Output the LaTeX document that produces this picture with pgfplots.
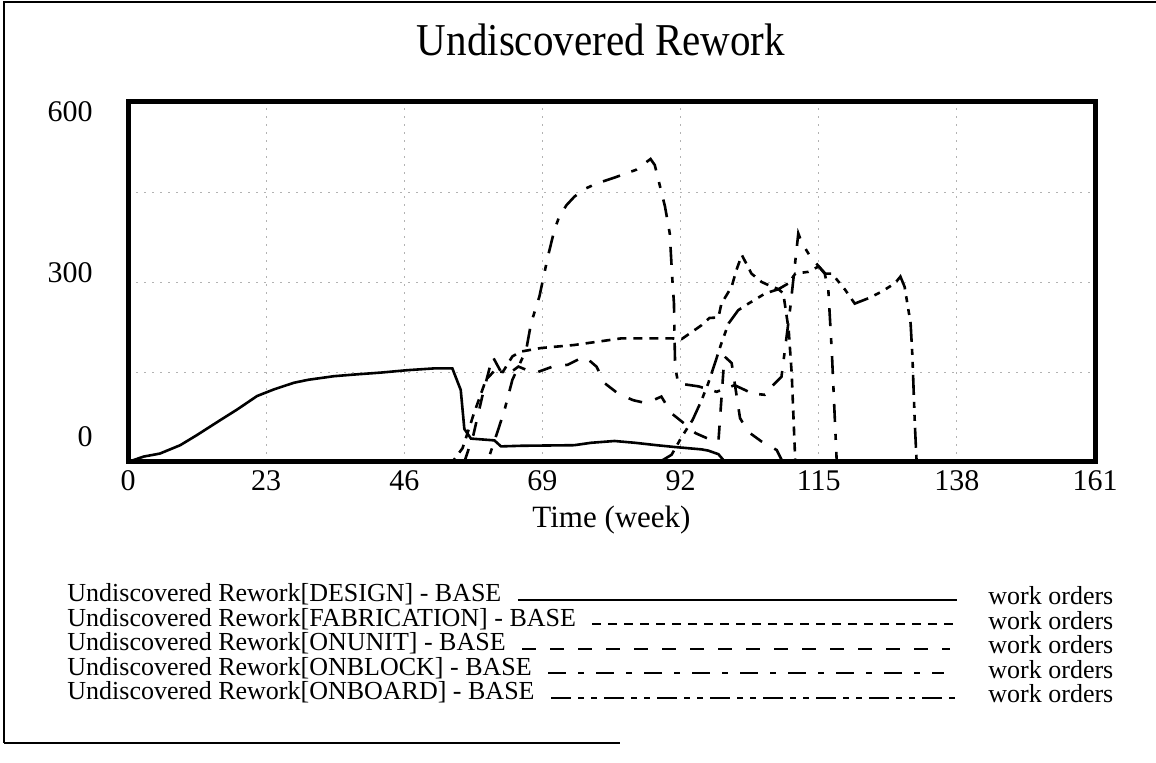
\documentclass[border=0pt]{standalone}
\usepackage{pgfplots}
\pgfplotsset{compat=1.18}
\usepackage{fontspec}
\setmainfont{Liberation Serif}
\newfontfamily\condfont{Liberation Serif}[FakeStretch=0.9]

\pgfplotstableread{
t v
0 0
2.6 9
5.3 14
8.7 28
11.5 45
15.4 70
18.1 87
21.5 110
24.3 121
27.6 132
30 137
34.3 143
38 146
42.1 149
46.5 153
51 156
54 156
55.4 120
56 55
57.1 39
61 36
62.1 26
65.4 27
74.3 28
77.1 32
81 35
84.4 32
88 28
91 25
95.5 21
96.6 19
98.3 13
99.4 0
161 0
}\design

\pgfplotstableread{
t v
0 0
54 0
55.7 23
57.6 81
59.6 137
61 152
62.4 150
64 176
65.4 184
68.8 190
74.3 195
82.1 206
90.5 206
92.2 205
95.5 228
96.8 240
98.3 241
98.8 264
100.5 292
101.3 320
102.2 345
103.8 314
105.5 300
106.6 295
108.3 288
109.1 281
110 220
110.5 148
111.1 0
161 0
}\fabrication

\pgfplotstableread{
t v
0 0
56 0
57.5 45
59 110
60.7 176
62 152
63.5 148
65 159
67.7 148
70.7 159
73.2 162
76 176
78 159
79.4 131
81.6 114
84.1 103
86.3 98
88.8 109
90.5 81
92.5 65
94.5 48
97 37
98.3 34
99.3 176
100.5 165
101.9 73
103.3 50
105.5 34
108 20
109 0
161 0
}\onunit

\pgfplotstableread{
t v
0 0
59.3 0
60.2 11
61.8 59
62.7 87
64 137
66.3 187
67.1 231
68.5 276
69.9 342
71 387
71.8 409
73 428
74.3 442
76 455
78 464
81 474
84.6 487
87 505
87.7 495
89.4 426
90.2 381
90.6 309
90.9 264
91 203
91.1 159
91.6 131
95 126
98 117
101 128
104 114
106 112
107.2 126
108.8 142
110.3 260
111.6 381
112.2 365
113.5 344
116 314
116.6 287
117.2 180
118 0
161 0
}\onblock

\pgfplotstableread{
t v
0 0
87.5 0
89 3
90.5 12
92.2 42
94 70
95.5 103
96.6 131
97.7 164
98.8 198
100 231
101.6 253
103.3 264
106.1 281
108.3 288
110 298
111.1 314
113.3 317
115 326
116.1 314
117.2 314
119.4 287
121 264
123.3 273
125.5 284
127.7 298
128.6 309
129.3 292
130.3 231
130.6 176
131 64
131.3 0
161 0
}\onboard

\tikzset{
  dFAB/.style={dash pattern=on 4.5pt off 3.5pt},
  dUNIT/.style={dash pattern=on 7pt off 7pt},
  dBLOCK/.style={dash pattern=on 9pt off 6pt on 3pt off 6pt},
  dBOARD/.style={dash pattern=on 10pt off 3.5pt on 3pt off 3.5pt on 3pt off 3.5pt},
}

\begin{document}
\begin{tikzpicture}[x=1pt,y=1pt]
\useasboundingbox (0,0) rectangle (578,381.5);
% outer frame (partial, as scanned)
\draw[line width=1pt] (1.5,380.5) -- (578,380.5);
\draw[line width=1pt] (2,380.5) -- (2,10);
\draw[line width=1pt] (2,10) -- (310,10);
% title
\node[font=\condfont\fontsize{22.8}{26}\selectfont] at (300.5,361.5) {Undiscovered Rework};

\begin{axis}[
  at={(64pt,150.5pt)}, anchor=south west,
  scale only axis, width=483.5pt, height=180pt,
  xmin=0, xmax=161, ymin=0, ymax=600,
  xtick={0,23,46,69,92,115,138,161},
  ytick={0,150,300,450,600},
  yticklabels={\smash{\raisebox{7.5pt}{0}},{},\smash{\raisebox{-0.5pt}{300}},{},\smash{\raisebox{-10pt}{600}}},
  major tick length=0pt,
  xmajorgrids, ymajorgrids,
  major grid style={gray!60, line width=0.4pt, dash pattern=on 1pt off 3pt},
  axis line style={line width=2.5pt},
  /pgf/number format/assume math mode=true,
  ticklabel style={font=\fontsize{15}{18}\selectfont, inner sep=0pt},
  yticklabel style={xshift=-17.5pt},
  xticklabel style={yshift=-4pt},
  xlabel={Time (week)},
  xlabel style={font=\fontsize{15.5}{18}\selectfont, at={(axis description cs:0.5,0)}, anchor=center, yshift=-29pt},
  clip=false,
]
\addplot[black, line width=1.3pt] table[x=t,y=v] {\design};
\addplot[black, line width=1.3pt, dFAB] table[x=t,y=v] {\fabrication};
\addplot[black, line width=1.3pt, dUNIT] table[x=t,y=v] {\onunit};
\addplot[black, line width=1.3pt, dBLOCK] table[x=t,y=v] {\onblock};
\addplot[black, line width=1.3pt, dBOARD] table[x=t,y=v] {\onboard};
\end{axis}

% legend
\begin{scope}[every node/.style={font=\fontsize{13}{15}\selectfont, inner sep=0pt}]
\node[anchor=base west] (l1) at (33.5,80.5) {Undiscovered Rework[DESIGN] - BASE};
\node[anchor=base west] (l2) at (33.5,68.25) {Undiscovered Rework[FABRICATION] - BASE};
\node[anchor=base west] (l3) at (33.5,56) {Undiscovered Rework[ONUNIT] - BASE};
\node[anchor=base west] (l4) at (33.5,43.75) {Undiscovered Rework[ONBLOCK] - BASE};
\node[anchor=base west] (l5) at (33.5,31.5) {Undiscovered Rework[ONBOARD] - BASE};
\draw[line width=1pt] ([xshift=8pt,yshift=1pt]l1.base east) -- (478.5,81.5);
\draw[line width=1pt,dFAB] ([xshift=8pt,yshift=1pt]l2.base east) -- (477.5,69.25);
\draw[line width=1pt,dUNIT] ([xshift=8pt,yshift=1pt]l3.base east) -- (475,57);
\draw[line width=1pt,dBLOCK] ([xshift=8pt,yshift=1pt]l4.base east) -- (472,44.75);
\draw[line width=1pt,dBOARD] ([xshift=8pt,yshift=1pt]l5.base east) -- (478.5,32.5);
\node[anchor=base west] at (494,79) {work orders};
\node[anchor=base west] at (494,66.75) {work orders};
\node[anchor=base west] at (494,54.5) {work orders};
\node[anchor=base west] at (494,42.25) {work orders};
\node[anchor=base west] at (494,30) {work orders};
\end{scope}
\end{tikzpicture}
\end{document}
